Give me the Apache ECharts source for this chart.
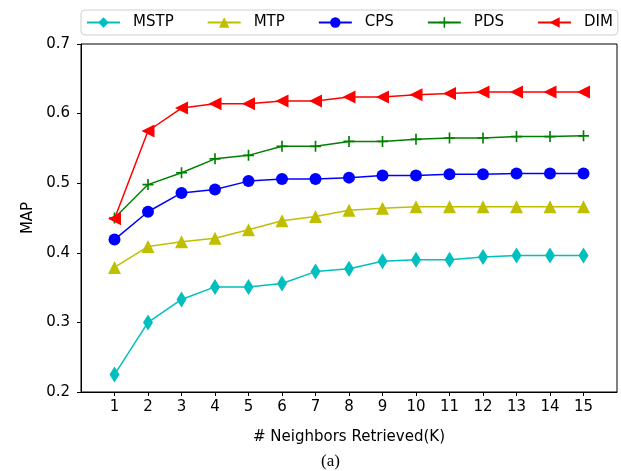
<!DOCTYPE html>
<html>
<head>
<meta charset="utf-8">
<script src="https://cdn.jsdelivr.net/npm/echarts@6/dist/echarts.min.js"></script>
<style>html,body{margin:0;padding:0;background:#fff}#c{width:621px;height:471px}</style>
</head>
<body>
<div id="c"></div>
<script>
var kValues = [1,2,3,4,5,6,7,8,9,10,11,12,13,14,15];
var seriesNames = ['MSTP','MTP','CPS','PDS','DIM'];
var mstp = [0.225,0.300,0.333,0.351,0.351,0.356,0.373,0.377,0.388,0.390,0.390,0.394,0.396,0.396,0.396];
var mtp  = [0.379,0.409,0.416,0.421,0.433,0.446,0.452,0.461,0.464,0.466,0.466,0.466,0.466,0.466,0.466];
var cps  = [0.419,0.459,0.486,0.491,0.503,0.506,0.506,0.508,0.511,0.511,0.513,0.513,0.514,0.514,0.514];
var pds  = [0.450,0.498,0.515,0.535,0.540,0.553,0.553,0.560,0.560,0.563,0.565,0.565,0.567,0.567,0.568];
var dim  = [0.449,0.575,0.608,0.614,0.614,0.618,0.618,0.624,0.624,0.627,0.629,0.631,0.631,0.631,0.631];
var yTicks = [0.2,0.3,0.4,0.5,0.6,0.7];
var captionText = '(a)';

function pts(arr){ return kValues.map(function(k,i){ return [k, arr[i]]; }); }
var font = 'DejaVu Sans';
var fs = 15;
var plus = 'path://M4.25,0h1.5v4.25h4.25v1.5h-4.25v4.25h-1.5v-4.25h-4.25v-1.5h4.25z';

function mk(name, data, color, symbol, size, rot){
  return {
    name: name, type: 'line', data: pts(data),
    symbol: symbol, symbolSize: size, symbolRotate: rot || 0,
    showAllSymbol: true,
    lineStyle: {color: color, width: 1.5},
    itemStyle: {color: color},
    emphasis: {disabled: true},
    animation: false
  };
}

var chart = echarts.init(document.getElementById('c'), null, {renderer: 'canvas'});
chart.setOption({
  animation: false,
  backgroundColor: '#fff',
  graphic: [{
    type: 'text', left: 333 - 12, top: 453,
    style: {text: captionText, font: '17px "Liberation Serif"', fill: '#000'}
  }],
  legend: {
    data: seriesNames,
    left: 81, top: 10,
    padding: [5, 5, 5, 5],
    itemWidth: 33, itemHeight: 13, itemGap: 33,
    borderColor: '#d0d0d0', borderWidth: 1, borderRadius: 4,
    textStyle: {fontFamily: font, fontSize: fs, color: '#000', padding: [0, 0, 0, 8]}
  },
  grid: {left: 81, top: 44, right: 4, bottom: 79, show: true, borderColor: '#000', borderWidth: 1, containLabel: false},
  xAxis: {
    type: 'value', min: 0, max: 16, interval: 1,
    name: '# Neighbors Retrieved(K)', nameLocation: 'middle', nameGap: 38,
    nameTextStyle: {fontFamily: font, fontSize: fs, color: '#000'},
    axisLine: {lineStyle: {color: '#000', width: 1}},
    axisTick: {length: 4, lineStyle: {color: '#000'}, customValues: kValues},
    axisLabel: {fontFamily: font, fontSize: fs, color: '#000', margin: 8, customValues: kValues},
    splitLine: {show: false}
  },
  yAxis: {
    type: 'value', min: 0.2, max: 0.7, interval: 0.1,
    name: 'MAP', nameLocation: 'middle', nameGap: 42,
    nameTextStyle: {fontFamily: font, fontSize: fs, color: '#000'},
    axisLine: {show: true, lineStyle: {color: '#000', width: 1}},
    axisTick: {show: true, length: 4, lineStyle: {color: '#000'}},
    axisLabel: {fontFamily: font, fontSize: fs, color: '#000', margin: 11,
      customValues: yTicks,
      formatter: function(v){ return v.toFixed(1); }},
    splitLine: {show: false}
  },
  series: [
    mk('MSTP', mstp, '#00bfbf', 'diamond', [10, 16]),
    mk('MTP', mtp, '#bfbf00', 'triangle', 13),
    mk('CPS', cps, '#0000ff', 'circle', 12),
    mk('PDS', pds, '#008000', plus, 11),
    mk('DIM', dim, '#ff0000', 'triangle', 13, 90)
  ]
});
</script>
</body>
</html>
